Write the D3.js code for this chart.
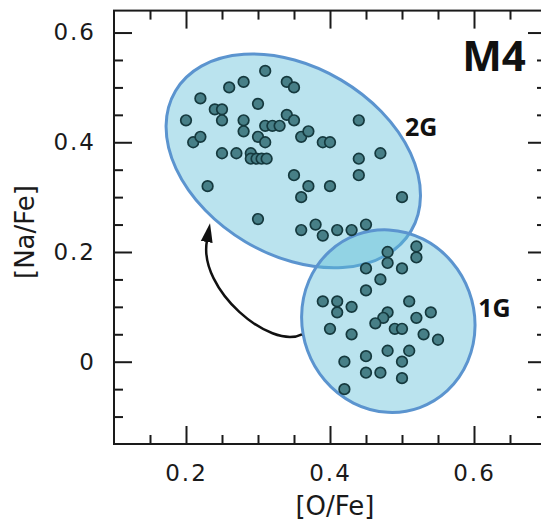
<!DOCTYPE html>
<html>
<head>
<meta charset="utf-8">
<script src="https://cdn.jsdelivr.net/npm/d3@7"></script>
<style>
  body { margin: 0; background: #fff; }
  svg { display: block; }
</style>
</head>
<body>
<div id="chart"></div>
<script>
// ---- data ----
const oFe2G = [0.20, 0.22, 0.21, 0.22, 0.23, 0.24, 0.25, 0.25, 0.25, 0.26,
  0.27, 0.28, 0.28, 0.28, 0.29, 0.29, 0.298, 0.305, 0.312, 0.30,
  0.31, 0.30, 0.31, 0.31, 0.32, 0.33, 0.34, 0.34, 0.35, 0.35,
  0.36, 0.37, 0.35, 0.37, 0.36, 0.30, 0.39, 0.40, 0.40, 0.36,
  0.38, 0.39, 0.41, 0.43, 0.45, 0.44, 0.44, 0.44, 0.47, 0.50];
const naFe2G = [0.44, 0.48, 0.40, 0.41, 0.32, 0.46, 0.46, 0.44, 0.38, 0.50,
  0.38, 0.51, 0.44, 0.42, 0.38, 0.37, 0.37, 0.37, 0.37, 0.41,
  0.40, 0.47, 0.53, 0.43, 0.43, 0.43, 0.45, 0.51, 0.50, 0.44,
  0.41, 0.42, 0.34, 0.32, 0.30, 0.26, 0.40, 0.40, 0.32, 0.24,
  0.25, 0.23, 0.24, 0.24, 0.25, 0.44, 0.37, 0.34, 0.38, 0.30];

const oFe1G = [0.48, 0.48, 0.52, 0.52, 0.45, 0.50, 0.47, 0.45, 0.39, 0.41,
  0.41, 0.43, 0.51, 0.54, 0.52, 0.48, 0.474, 0.463, 0.49, 0.50,
  0.40, 0.43, 0.53, 0.55, 0.48, 0.51, 0.50, 0.42, 0.45, 0.45,
  0.47, 0.50, 0.42];
const naFe1G = [0.20, 0.18, 0.21, 0.19, 0.17, 0.17, 0.15, 0.13, 0.11, 0.11,
  0.09, 0.10, 0.11, 0.09, 0.08, 0.09, 0.08, 0.07, 0.06, 0.06,
  0.06, 0.05, 0.05, 0.04, 0.02, 0.02, 0.00, 0.00, 0.01, -0.02,
  -0.02, -0.03, -0.05];

const groups = ["2G", "1G"];
const groupCenterO = [0.349, 0.481];   // ellipse centres in [O/Fe]
const groupCenterNa = [0.366, 0.074];  // ellipse centres in [Na/Fe]
const labelO = [0.504, 0.606];
const labelNa = [0.411, 0.082];

const xMajor = [0.2, 0.4, 0.6];
const yMajor = [0, 0.2, 0.4, 0.6];
const xMinor = [0.15, 0.25, 0.3, 0.35, 0.45, 0.5, 0.55, 0.65];
const yMinor = [-0.1, -0.05, 0.05, 0.1, 0.15, 0.25, 0.3, 0.35, 0.45, 0.5, 0.55];

// arrow from 1G towards 2G: start, two controls, end (data units)
const arrowO = [0.361, 0.317, 0.217, 0.229];
const arrowNa = [0.050, 0.021, 0.131, 0.220];

// ---- layout ----
const width = 541, height = 521;
const plot = { left: 114, right: 546, top: 10.6, bottom: 444 };

const svg = d3.select("#chart")
  .append("svg")
  .attr("width", width)
  .attr("height", height);

const x = d3.scaleLinear().domain([0.1, 0.7]).range([plot.left, plot.right]);
const y = d3.scaleLinear().domain([-0.15, 0.64]).range([plot.bottom, plot.top]);

// ellipse shapes (pixels): semi-axes and tilt
const ellShape = [
  { rx: 137, ry: 94, rot: 30.7 },
  { rx: 86, ry: 92, rot: -20 }
];

const ellGroup = svg.append("g");
groups.forEach((g, i) => {
  ellGroup.append("ellipse")
    .attr("transform", `translate(${x(groupCenterO[i])},${y(groupCenterNa[i])}) rotate(${ellShape[i].rot})`)
    .attr("rx", ellShape[i].rx)
    .attr("ry", ellShape[i].ry)
    .attr("fill", "#5bbcd6")
    .attr("fill-opacity", 0.42)
    .attr("stroke", "#5b94cf")
    .attr("stroke-width", 3);
});

// arrow
svg.append("defs").append("marker")
  .attr("id", "head")
  .attr("markerUnits", "userSpaceOnUse")
  .attr("markerWidth", 20)
  .attr("markerHeight", 14)
  .attr("viewBox", "0 -7 20 14")
  .attr("refX", 1)
  .attr("refY", 0)
  .attr("orient", "auto")
  .append("path")
  .attr("d", "M0,-6L19,0L0,6Z")
  .attr("fill", "#111");

const ap = arrowO.map((o, i) => [x(o), y(arrowNa[i])]);
svg.append("path")
  .attr("d", `M${ap[0]}C${ap[1]} ${ap[2]} ${ap[3]}`)
  .attr("fill", "none")
  .attr("stroke", "#111")
  .attr("stroke-width", 2.5)
  .attr("marker-end", "url(#head)");

// points
const pts = oFe2G.map((o, i) => ({ o, na: naFe2G[i] }))
  .concat(oFe1G.map((o, i) => ({ o, na: naFe1G[i] })));

svg.append("g")
  .selectAll("circle")
  .data(pts)
  .join("circle")
  .attr("cx", d => x(d.o))
  .attr("cy", d => y(d.na))
  .attr("r", 5.3)
  .attr("fill", "#477f87")
  .attr("stroke", "#15393e")
  .attr("stroke-width", 1.7);

// group labels
svg.append("g")
  .selectAll("text")
  .data(groups)
  .join("text")
  .attr("x", (d, i) => x(labelO[i]))
  .attr("y", (d, i) => y(labelNa[i]))
  .attr("font-family", "'Open Sans', 'Liberation Sans', sans-serif")
  .attr("font-weight", "bold")
  .attr("font-size", 25)
  .attr("fill", "#111")
  .text(d => d);

svg.append("text")
  .attr("x", x(0.672))
  .attr("y", y(0.53))
  .attr("text-anchor", "end")
  .attr("font-family", "'Open Sans', 'Liberation Sans', sans-serif")
  .attr("font-weight", "bold")
  .attr("font-size", 42)
  .attr("fill", "#111")
  .text("M4");

// axes
const fmt = d => d === 0 ? "0" : d3.format(".1f")(d);
const styleAxis = g => {
  g.select(".domain").remove();
  g.selectAll("line").attr("stroke", "#1a1a1a").attr("stroke-width", 2);
  g.selectAll("text")
    .attr("fill", "#1a1a1a")
    .attr("font-family", "'DejaVu Sans', sans-serif")
    .attr("font-size", 23)
    .attr("letter-spacing", 2);
};

svg.append("g")
  .attr("transform", `translate(0,${plot.bottom})`)
  .call(d3.axisBottom(x).tickValues(xMajor).tickSize(-18).tickSizeOuter(0).tickPadding(21).tickFormat(fmt))
  .call(styleAxis);
svg.append("g")
  .attr("transform", `translate(0,${plot.bottom})`)
  .call(d3.axisBottom(x).tickValues(xMinor).tickSize(-9).tickSizeOuter(0).tickFormat(""))
  .call(styleAxis);
svg.append("g")
  .attr("transform", `translate(0,${plot.top})`)
  .call(d3.axisTop(x).tickValues(xMajor).tickSize(-18).tickSizeOuter(0).tickFormat(""))
  .call(styleAxis);
svg.append("g")
  .attr("transform", `translate(0,${plot.top})`)
  .call(d3.axisTop(x).tickValues(xMinor).tickSize(-9).tickSizeOuter(0).tickFormat(""))
  .call(styleAxis);

svg.append("g")
  .attr("transform", `translate(${plot.left},0)`)
  .call(d3.axisLeft(y).tickValues(yMajor).tickSize(-18).tickSizeOuter(0).tickPadding(18).tickFormat(fmt))
  .call(styleAxis);
svg.append("g")
  .attr("transform", `translate(${plot.left},0)`)
  .call(d3.axisLeft(y).tickValues(yMinor).tickSize(-9).tickSizeOuter(0).tickFormat(""))
  .call(styleAxis);
svg.append("g")
  .attr("transform", `translate(${plot.right},0)`)
  .call(d3.axisRight(y).tickValues(yMajor).tickSize(-18).tickSizeOuter(0).tickFormat(""))
  .call(styleAxis);
svg.append("g")
  .attr("transform", `translate(${plot.right},0)`)
  .call(d3.axisRight(y).tickValues(yMinor).tickSize(-9).tickSizeOuter(0).tickFormat(""))
  .call(styleAxis);

// frame
svg.append("rect")
  .attr("x", plot.left)
  .attr("y", plot.top)
  .attr("width", plot.right - plot.left)
  .attr("height", plot.bottom - plot.top)
  .attr("fill", "none")
  .attr("stroke", "#1a1a1a")
  .attr("stroke-width", 2);

// axis titles
svg.append("text")
  .attr("x", 335)
  .attr("y", 515)
  .attr("text-anchor", "middle")
  .attr("font-family", "'DejaVu Sans', sans-serif")
  .attr("font-size", 26)
  .attr("fill", "#1a1a1a")
  .text("[O/Fe]");

svg.append("text")
  .attr("transform", "translate(34,232) rotate(-90)")
  .attr("text-anchor", "middle")
  .attr("font-family", "'DejaVu Sans', sans-serif")
  .attr("font-size", 26)
  .attr("fill", "#1a1a1a")
  .text("[Na/Fe]");
</script>
</body>
</html>
